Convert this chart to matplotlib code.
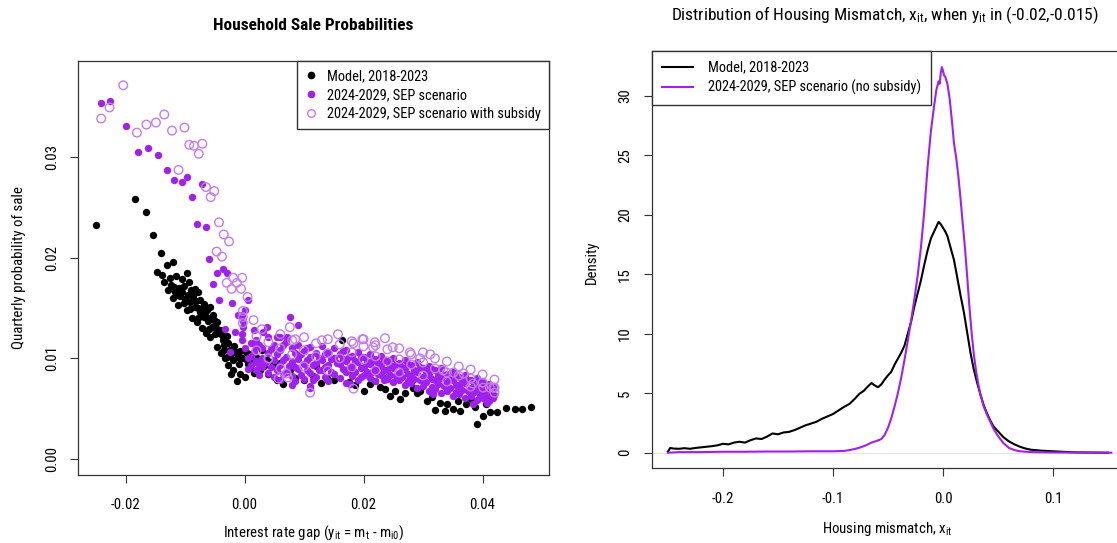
import matplotlib
matplotlib.use("Agg")
import matplotlib.pyplot as plt
import matplotlib.font_manager as fm
from matplotlib.lines import Line2D

# pick a narrow face if one is installed, else an Arial-like one
names = {f.name for f in fm.fontManager.ttflist}
FONT, SCALE = 'Liberation Sans', 1.0
for cand in ['Liberation Sans Narrow', 'Roboto Condensed', 'Arial Narrow', 'Open Sans Condensed']:
    if cand in names:
        FONT, SCALE = cand, 1.15
        break
plt.rcParams['font.family'] = [FONT, 'DejaVu Sans']

# ---- left panel: sale probabilities (x = rate gap, y = quarterly prob.) ----
model_pts = [
    (-0.0249, 0.0232), (-0.0184, 0.0258), (-0.0165, 0.0245), (-0.0154, 0.0222),
    (-0.0141, 0.0205), (-0.0147, 0.0186), (-0.0130, 0.0193), (-0.0120, 0.0196),
    (-0.0135, 0.0176), (-0.0124, 0.0173), (-0.0115, 0.0182), (-0.0096, 0.0185),
    (-0.0106, 0.0179), (-0.0128, 0.0168), (-0.0117, 0.0166), (-0.0110, 0.0170),
    (-0.0101, 0.0172), (-0.0093, 0.0176), (-0.0083, 0.0169), (-0.0078, 0.0166),
    (-0.0120, 0.0160), (-0.0108, 0.0162), (-0.0100, 0.0159), (-0.0092, 0.0156),
    (-0.0086, 0.0162), (-0.0075, 0.0158), (-0.0068, 0.0154), (-0.0112, 0.0153),
    (-0.0097, 0.0148), (-0.0092, 0.0149), (-0.0084, 0.0151), (-0.0075, 0.0146),
    (-0.0064, 0.0148), (-0.0058, 0.0151), (-0.0053, 0.0143), (-0.0069, 0.0141),
    (-0.0088, 0.0140), (-0.0080, 0.0136), (-0.0062, 0.0137), (-0.0055, 0.0131),
    (-0.0046, 0.0136), (-0.0041, 0.0128), (-0.0072, 0.0130), (-0.0065, 0.0125),
    (-0.0058, 0.0121), (-0.0050, 0.0124), (-0.0036, 0.0118), (-0.0047, 0.0111),
    (-0.0030, 0.0122), (-0.0025, 0.0108), (-0.0040, 0.0105), (-0.0030, 0.0101),
    (-0.0033, 0.0100), (-0.0019, 0.0098), (-0.0011, 0.0101), (-0.0018, 0.0112),
    (-0.0008, 0.0107), (0.0004, 0.0098), (0.0010, 0.0104), (0.0020, 0.0101),
    (0.0030, 0.0108), (0.0037, 0.0098), (-0.0022, 0.0085), (-0.0019, 0.0088),
    (-0.0013, 0.0078), (-0.0008, 0.0085), (0.0000, 0.0082), (0.0009, 0.0091),
    (0.0015, 0.0086), (0.0026, 0.0088), (0.0040, 0.0085), (-0.0028, 0.0093),
    (0.0005, 0.0094), (0.0048, 0.0093), (0.0055, 0.0079), (0.0065, 0.0075),
    (0.0085, 0.0081), (0.0076, 0.0088), (0.0100, 0.0079), (0.0115, 0.0083),
    (0.0138, 0.0081), (0.0128, 0.0076), (0.0163, 0.0118), (0.0150, 0.0079),
    (0.0175, 0.0077), (0.0185, 0.0074), (0.0200, 0.0068), (0.0210, 0.0075),
    (0.0219, 0.0078), (0.0228, 0.0072), (0.0236, 0.0070), (0.0245, 0.0063),
    (0.0252, 0.0068), (0.0261, 0.0060), (0.0270, 0.0066), (0.0283, 0.0071),
    (0.0289, 0.0066), (0.0295, 0.0068), (0.0306, 0.0058), (0.0315, 0.0062),
    (0.0320, 0.0049), (0.0328, 0.0056), (0.0337, 0.0048), (0.0340, 0.0055),
    (0.0351, 0.0050), (0.0358, 0.0058), (0.0362, 0.0048), (0.0372, 0.0055),
    (0.0380, 0.0060), (0.0388, 0.0052), (0.0390, 0.0035), (0.0396, 0.0063),
    (0.0401, 0.0043), (0.0405, 0.0055), (0.0412, 0.0047), (0.0418, 0.0063),
    (0.0424, 0.0047), (0.0440, 0.0051), (0.0454, 0.0050), (0.0466, 0.0050),
    (0.0481, 0.0052), (0.0060, 0.0095), (0.0120, 0.0092), (0.0180, 0.0088),
    (0.0240, 0.0082), (0.0300, 0.0078), (0.0360, 0.0070), (0.0400, 0.0068),
    (-0.0118, 0.0171), (-0.0105, 0.0166), (-0.0095, 0.0163), (-0.0090, 0.0168),
    (-0.0082, 0.0157), (-0.0079, 0.0150), (-0.0071, 0.0149), (-0.0066, 0.0143),
    (-0.0060, 0.0140), (-0.0052, 0.0138), (-0.0048, 0.0130), (-0.0044, 0.0125),
    (-0.0038, 0.0123), (-0.0034, 0.0113), (-0.0028, 0.0115), (-0.0022, 0.0104),
    (-0.0015, 0.0106), (-0.0005, 0.0100), (0.0002, 0.0106), (0.0014, 0.0096),
    (0.0024, 0.0094), (0.0033, 0.0092), (-0.0010, 0.0094), (-0.0035, 0.0108),
    (-0.0060, 0.0129), (-0.0078, 0.0140), (-0.0102, 0.0155), (-0.0113, 0.0163),
    (-0.0125, 0.0180), (-0.0139, 0.0183),
]

sep_pts = [
    (-0.0241, 0.0353), (-0.0226, 0.0355), (-0.0200, 0.0331), (-0.0179, 0.0305),
    (-0.0162, 0.0309), (-0.0145, 0.0302), (-0.0130, 0.0287), (-0.0118, 0.0277),
    (-0.0106, 0.0275), (-0.0096, 0.0280), (-0.0072, 0.0273), (-0.0088, 0.0260),
    (-0.0080, 0.0233), (-0.0065, 0.0230), (-0.0059, 0.0199), (-0.0047, 0.0185),
    (-0.0037, 0.0189), (-0.0029, 0.0185), (-0.0053, 0.0174), (-0.0043, 0.0158),
    (-0.0021, 0.0155), (0.0005, 0.0158), (0.0001, 0.0148), (-0.0005, 0.0143),
    (-0.0011, 0.0143), (-0.0033, 0.0129), (-0.0016, 0.0126), (0.0015, 0.0128),
    (-0.0025, 0.0106), (0.0000, 0.0110), (0.0020, 0.0111), (0.0037, 0.0131),
    (0.0031, 0.0126), (0.0076, 0.0141), (0.0090, 0.0133), (0.0060, 0.0121),
    (0.0071, 0.0121), (-0.0004, 0.0118), (-0.0004, 0.0124), (-0.0003, 0.0131),
    (-0.0003, 0.0137),
    (0.0010, 0.0115), (0.0010, 0.0102), (0.0010, 0.0093),
    (0.0020, 0.0118), (0.0020, 0.0097), (0.0020, 0.0088),
    (0.0030, 0.0110), (0.0030, 0.0100), (0.0030, 0.0091),
    (0.0040, 0.0121), (0.0040, 0.0105), (0.0040, 0.0086),
    (0.0050, 0.0113), (0.0050, 0.0098), (0.0050, 0.0082),
    (0.0060, 0.0108), (0.0060, 0.0093), (0.0060, 0.0079),
    (0.0070, 0.0116), (0.0070, 0.0101), (0.0070, 0.0087),
    (0.0080, 0.0110), (0.0080, 0.0096), (0.0080, 0.0083), (0.0080, 0.0074),
    (0.0090, 0.0113), (0.0090, 0.0099), (0.0090, 0.0089),
    (0.0100, 0.0107), (0.0100, 0.0094), (0.0100, 0.0080),
    (0.0110, 0.0111), (0.0110, 0.0101), (0.0110, 0.0086), (0.0110, 0.0073),
    (0.0120, 0.0105), (0.0120, 0.0095), (0.0120, 0.0082),
    (0.0130, 0.0112), (0.0130, 0.0098), (0.0130, 0.0088),
    (0.0140, 0.0106), (0.0140, 0.0093), (0.0140, 0.0078),
    (0.0150, 0.0110), (0.0150, 0.0100), (0.0150, 0.0085),
    (0.0160, 0.0104), (0.0160, 0.0094), (0.0160, 0.0081),
    (0.0170, 0.0108), (0.0170, 0.0097), (0.0170, 0.0087), (0.0170, 0.0076),
    (0.0180, 0.0102), (0.0180, 0.0092), (0.0180, 0.0083),
    (0.0190, 0.0106), (0.0190, 0.0096), (0.0190, 0.0079),
    (0.0200, 0.0101), (0.0200, 0.0091), (0.0200, 0.0084),
    (0.0210, 0.0104), (0.0210, 0.0094), (0.0210, 0.0081),
    (0.0220, 0.0099), (0.0220, 0.0089), (0.0220, 0.0078),
    (0.0230, 0.0102), (0.0230, 0.0092), (0.0230, 0.0084),
    (0.0240, 0.0097), (0.0240, 0.0088), (0.0240, 0.0080),
    (0.0250, 0.0100), (0.0250, 0.0090), (0.0250, 0.0077),
    (0.0260, 0.0095), (0.0260, 0.0086), (0.0260, 0.0079),
    (0.0270, 0.0098), (0.0270, 0.0089), (0.0270, 0.0074),
    (0.0280, 0.0093), (0.0280, 0.0084), (0.0280, 0.0076),
    (0.0290, 0.0096), (0.0290, 0.0087), (0.0290, 0.0071),
    (0.0300, 0.0090), (0.0300, 0.0082), (0.0300, 0.0073),
    (0.0310, 0.0092), (0.0310, 0.0084), (0.0310, 0.0068),
    (0.0320, 0.0088), (0.0320, 0.0079), (0.0320, 0.0070),
    (0.0330, 0.0090), (0.0330, 0.0081), (0.0330, 0.0066),
    (0.0340, 0.0085), (0.0340, 0.0077), (0.0340, 0.0068),
    (0.0350, 0.0087), (0.0350, 0.0079), (0.0350, 0.0063),
    (0.0360, 0.0082), (0.0360, 0.0074), (0.0360, 0.0065),
    (0.0370, 0.0084), (0.0370, 0.0076), (0.0370, 0.0061),
    (0.0380, 0.0079), (0.0380, 0.0071), (0.0380, 0.0063),
    (0.0390, 0.0081), (0.0390, 0.0073), (0.0390, 0.0059),
    (0.0400, 0.0077), (0.0400, 0.0068), (0.0400, 0.0061),
    (0.0410, 0.0075), (0.0410, 0.0066), (0.0410, 0.0058),
    (0.0420, 0.0072), (0.0420, 0.0064),
    (0.0015, 0.0106), (0.0035, 0.0095), (0.0055, 0.0104), (0.0055, 0.0088),
    (0.0075, 0.0092), (0.0095, 0.0104), (0.0095, 0.0084), (0.0125, 0.0100),
    (0.0125, 0.0088), (0.0155, 0.0095), (0.0175, 0.0101), (0.0175, 0.0090),
    (0.0215, 0.0097), (0.0215, 0.0087), (0.0255, 0.0094), (0.0255, 0.0083),
    (0.0295, 0.0091), (0.0295, 0.0079), (0.0335, 0.0084), (0.0335, 0.0073),
    (0.0375, 0.0079), (0.0375, 0.0068), (0.0405, 0.0071), (0.0405, 0.0064),
    (0.0054, 0.0121), (0.0110, 0.0071), (0.0177, 0.0075), (0.0239, 0.0081),
    (0.0317, 0.0065), (0.0384, 0.0055), (0.0407, 0.0056), (0.0418, 0.0061),
    (0.0005, 0.0100), (0.0005, 0.0089), (0.0025, 0.0113), (0.0025, 0.0094),
    (0.0025, 0.0084), (0.0045, 0.0109), (0.0045, 0.0091), (0.0065, 0.0113),
    (0.0065, 0.0098), (0.0065, 0.0085), (0.0085, 0.0105), (0.0085, 0.0091),
    (0.0085, 0.0078), (0.0105, 0.0110), (0.0105, 0.0098), (0.0105, 0.0088),
    (0.0115, 0.0093), (0.0115, 0.0079), (0.0135, 0.0104), (0.0135, 0.0091),
    (0.0135, 0.0082), (0.0145, 0.0099), (0.0145, 0.0087), (0.0165, 0.0107),
    (0.0165, 0.0099), (0.0165, 0.0089), (0.0185, 0.0097), (0.0185, 0.0087),
    (0.0195, 0.0101), (0.0195, 0.0090), (0.0195, 0.0082), (0.0205, 0.0096),
    (0.0205, 0.0087), (0.0225, 0.0095), (0.0225, 0.0085), (0.0235, 0.0098),
    (0.0235, 0.0088), (0.0235, 0.0079), (0.0245, 0.0093), (0.0245, 0.0084),
    (0.0265, 0.0091), (0.0265, 0.0082), (0.0275, 0.0094), (0.0275, 0.0085),
    (0.0275, 0.0078), (0.0285, 0.0088), (0.0285, 0.0080), (0.0305, 0.0087),
    (0.0305, 0.0077), (0.0315, 0.0089), (0.0315, 0.0080), (0.0315, 0.0072),
    (0.0325, 0.0084), (0.0325, 0.0075), (0.0345, 0.0081), (0.0345, 0.0071),
    (0.0355, 0.0083), (0.0355, 0.0074), (0.0355, 0.0067), (0.0365, 0.0078),
    (0.0365, 0.0069), (0.0385, 0.0076), (0.0385, 0.0067), (0.0395, 0.0077),
    (0.0395, 0.0069), (0.0395, 0.0062), (0.0415, 0.0070), (0.0415, 0.0062),
]

subsidy_pts = [
    (-0.0204, 0.0371), (-0.0227, 0.0349), (-0.0241, 0.0338), (-0.0181, 0.0324),
    (-0.0165, 0.0332), (-0.0149, 0.0334), (-0.0135, 0.0342), (-0.0122, 0.0326),
    (-0.0101, 0.0329), (-0.0093, 0.0312), (-0.0085, 0.0311), (-0.0071, 0.0313),
    (-0.0077, 0.0303), (-0.0111, 0.0287), (-0.0065, 0.0270), (-0.0051, 0.0266),
    (-0.0057, 0.0260), (-0.0043, 0.0235), (-0.0035, 0.0223), (-0.0026, 0.0216),
    (-0.0047, 0.0206), (-0.0038, 0.0201), (-0.0019, 0.0180), (-0.0004, 0.0180),
    (-0.0030, 0.0175), (-0.0013, 0.0175), (-0.0022, 0.0169), (-0.0006, 0.0169),
    (0.0005, 0.0161), (-0.0003, 0.0147), (-0.0003, 0.0141), (-0.0003, 0.0135),
    (0.0015, 0.0138), (0.0029, 0.0129), (0.0076, 0.0131), (0.0057, 0.0080),
    (0.0071, 0.0085), (0.0073, 0.0081), (0.0110, 0.0066), (0.0085, 0.0119),
    (0.0130, 0.0118), (0.0157, 0.0124), (0.0198, 0.0119), (0.0183, 0.0115),
    (0.0200, 0.0119), (0.0216, 0.0111), (0.0219, 0.0116), (0.0236, 0.0120),
    (0.0249, 0.0111), (0.0278, 0.0106), (0.0295, 0.0100), (0.0312, 0.0104),
    (0.0334, 0.0088), (0.0351, 0.0086), (0.0368, 0.0085), (0.0384, 0.0075),
    (0.0401, 0.0071), (0.0412, 0.0071), (0.0418, 0.0071), (0.0183, 0.0070),
    (0.0020, 0.0122), (0.0020, 0.0108), (0.0040, 0.0116), (0.0040, 0.0100),
    (0.0060, 0.0124), (0.0060, 0.0110), (0.0060, 0.0090), (0.0080, 0.0118),
    (0.0080, 0.0104), (0.0100, 0.0121), (0.0100, 0.0108), (0.0100, 0.0092),
    (0.0120, 0.0115), (0.0120, 0.0102), (0.0140, 0.0119), (0.0140, 0.0105),
    (0.0140, 0.0088), (0.0160, 0.0114), (0.0160, 0.0100), (0.0180, 0.0117),
    (0.0180, 0.0106), (0.0180, 0.0091), (0.0200, 0.0112), (0.0200, 0.0099),
    (0.0220, 0.0113), (0.0220, 0.0102), (0.0220, 0.0088), (0.0240, 0.0109),
    (0.0240, 0.0097), (0.0260, 0.0110), (0.0260, 0.0099), (0.0260, 0.0086),
    (0.0280, 0.0104), (0.0280, 0.0094), (0.0300, 0.0106), (0.0300, 0.0096),
    (0.0300, 0.0083), (0.0320, 0.0100), (0.0320, 0.0090), (0.0340, 0.0097),
    (0.0340, 0.0086), (0.0340, 0.0077), (0.0360, 0.0092), (0.0360, 0.0083),
    (0.0380, 0.0089), (0.0380, 0.0080), (0.0380, 0.0072), (0.0400, 0.0084),
    (0.0400, 0.0076), (0.0420, 0.0079), (0.0420, 0.0071), (0.0420, 0.0066),
]

# ---- right panel: densities of housing mismatch ----
model_dens = [
    (-0.2500, 0.10), (-0.2480, 0.40), (-0.2450, 0.35), (-0.2400, 0.33),
    (-0.2350, 0.38), (-0.2300, 0.33), (-0.2250, 0.40), (-0.2200, 0.45),
    (-0.2150, 0.50), (-0.2100, 0.55), (-0.2050, 0.62), (-0.2000, 0.75),
    (-0.1950, 0.70), (-0.1900, 0.85), (-0.1850, 0.92), (-0.1800, 0.85),
    (-0.1750, 1.05), (-0.1700, 1.20), (-0.1650, 1.15), (-0.1600, 1.35),
    (-0.1550, 1.62), (-0.1500, 1.55), (-0.1450, 1.70), (-0.1400, 1.75),
    (-0.1350, 1.90), (-0.1300, 2.10), (-0.1250, 2.30), (-0.1200, 2.45),
    (-0.1150, 2.60), (-0.1100, 2.85), (-0.1050, 3.05), (-0.1000, 3.25),
    (-0.0950, 3.55), (-0.0900, 3.85), (-0.0850, 4.10), (-0.0800, 4.55),
    (-0.0760, 4.95), (-0.0720, 5.20), (-0.0680, 5.60), (-0.0650, 5.85),
    (-0.0620, 5.65), (-0.0590, 5.50), (-0.0560, 5.75), (-0.0530, 6.15),
    (-0.0500, 6.50), (-0.0470, 6.80), (-0.0440, 7.40), (-0.0410, 7.90),
    (-0.0380, 8.40), (-0.0350, 9.00), (-0.0320, 10.00), (-0.0290, 11.00),
    (-0.0260, 12.30), (-0.0230, 13.40), (-0.0200, 14.50), (-0.0170, 15.80),
    (-0.0140, 17.00), (-0.0110, 18.00), (-0.0080, 18.60), (-0.0060, 19.00),
    (-0.0040, 19.40), (-0.0020, 19.20), (0.0000, 18.90), (0.0020, 18.60),
    (0.0040, 18.20), (0.0070, 17.20), (0.0100, 16.20), (0.0130, 14.70),
    (0.0160, 13.20), (0.0190, 11.80), (0.0220, 10.10), (0.0250, 8.40),
    (0.0280, 7.00), (0.0310, 5.90), (0.0340, 4.90), (0.0370, 4.00),
    (0.0400, 3.30), (0.0430, 2.70), (0.0460, 2.20), (0.0500, 1.80),
    (0.0550, 1.30), (0.0600, 0.95), (0.0650, 0.70), (0.0700, 0.50),
    (0.0750, 0.35), (0.0800, 0.25), (0.0900, 0.17), (0.1000, 0.12),
    (0.1100, 0.07), (0.1200, 0.03), (0.1300, 0.02), (0.1400, 0.01),
    (0.1500, 0.00),
]

sep_dens = [
    (-0.2500, 0.00), (-0.2400, 0.05), (-0.2200, 0.05), (-0.2000, 0.08),
    (-0.1800, 0.08), (-0.1600, 0.10), (-0.1400, 0.10), (-0.1200, 0.12),
    (-0.1000, 0.12), (-0.0900, 0.15), (-0.0850, 0.22), (-0.0800, 0.32),
    (-0.0750, 0.45), (-0.0700, 0.62), (-0.0650, 0.85), (-0.0600, 1.00),
    (-0.0560, 1.15), (-0.0530, 1.50), (-0.0500, 2.10), (-0.0470, 2.90),
    (-0.0440, 3.90), (-0.0410, 5.00), (-0.0380, 6.30), (-0.0350, 7.80),
    (-0.0320, 9.40), (-0.0290, 11.10), (-0.0260, 12.90), (-0.0230, 14.90),
    (-0.0200, 17.30), (-0.0170, 20.30), (-0.0140, 24.00), (-0.0110, 27.00),
    (-0.0080, 29.20), (-0.0060, 30.50), (-0.0040, 31.20), (-0.0030, 31.00),
    (-0.0020, 31.90), (-0.0010, 32.40), (0.0000, 32.10), (0.0010, 31.70),
    (0.0020, 31.60), (0.0040, 31.00), (0.0060, 29.80), (0.0080, 28.00),
    (0.0100, 26.00), (0.0120, 24.80), (0.0140, 23.20), (0.0160, 21.30),
    (0.0180, 19.20), (0.0200, 17.20), (0.0220, 14.80), (0.0240, 12.30),
    (0.0260, 10.10), (0.0280, 8.30), (0.0300, 6.90), (0.0320, 5.80),
    (0.0340, 4.90), (0.0370, 3.90), (0.0400, 3.20), (0.0430, 2.60),
    (0.0460, 2.00), (0.0500, 1.40), (0.0550, 0.80), (0.0600, 0.40),
    (0.0650, 0.22), (0.0700, 0.12), (0.0800, 0.05), (0.1000, 0.02),
    (0.1300, 0.01), (0.1530, 0.00),
]

PURPLE = '#a020f0'
LAVENDER = '#c27cf5'
W, H = 1117, 543
FS = 9.3 * SCALE
LEG_FS = 9.0 * SCALE


def fx(px):
    return px / W


def fy(py):
    return 1 - py / H


fig = plt.figure(figsize=(W / 100, H / 100), dpi=100)

# ------------------------- left panel -------------------------
ax1 = fig.add_axes([fx(78.3), fy(474.5), (548.6 - 78.3) / W, (474.5 - 60.9) / H])
ax1.scatter([p[0] for p in model_pts], [p[1] for p in model_pts],
            s=28, c='black', linewidths=0)
ax1.scatter([p[0] for p in sep_pts], [p[1] for p in sep_pts],
            s=28, c=PURPLE, linewidths=0)
ax1.scatter([p[0] for p in subsidy_pts], [p[1] for p in subsidy_pts],
            s=38, facecolors='none', edgecolors=LAVENDER, linewidths=1.0)
ax1.set_xlim(-0.02795, 0.0511)
ax1.set_ylim(-0.00152, 0.03952)
ax1.set_xticks([-0.02, 0.0, 0.02, 0.04])
ax1.set_xticklabels(['-0.02', '0.00', '0.02', '0.04'])
ax1.set_yticks([0.0, 0.01, 0.02, 0.03])
ax1.set_yticklabels(['0.00', '0.01', '0.02', '0.03'])

leg_handles = [
    Line2D([], [], ls='none', marker='o', ms=4.5, mfc='black', mec='black'),
    Line2D([], [], ls='none', marker='o', ms=4.5, mfc=PURPLE, mec=PURPLE),
    Line2D([], [], ls='none', marker='o', ms=5.5, mfc='none', mec=LAVENDER, mew=1.0),
]
ax1.legend(leg_handles, ['Model, 2018-2023', '2024-2029, SEP scenario',
                         '2024-2029, SEP scenario with subsidy'],
           loc='upper right', borderaxespad=0, fancybox=False, framealpha=1,
           edgecolor='#333333', fontsize=LEG_FS, handlelength=0.8,
           handletextpad=0.7, labelspacing=0.35, borderpad=0.55)

fig.text(fx(313.5), fy(26), 'Household Sale Probabilities', ha='center',
         va='center', fontsize=10.8 * SCALE, fontweight='bold')
fig.text(fx(313.5), fy(533),
         r'Interest rate gap ($\mathregular{y_{it}}$ = $\mathregular{m_t}$ - $\mathregular{m_{i0}}$)',
         ha='center', va='center', fontsize=FS)
fig.text(fx(19), fy(268), 'Quarterly probability of sale', ha='center',
         va='center', rotation=90, fontsize=FS)

# ------------------------- right panel -------------------------
ax2 = fig.add_axes([fx(651.7), fy(468.3), (1129 - 651.7) / W, (468.3 - 50.7) / H])
ax2.axhline(0, color='#e6e6e6', lw=1.0, zorder=0)
ax2.plot([p[0] for p in model_dens], [p[1] for p in model_dens],
         color='black', lw=1.5, label='Model, 2018-2023')
ax2.plot([p[0] for p in sep_dens], [p[1] for p in sep_dens],
         color=PURPLE, lw=1.5, label='2024-2029, SEP scenario (no subsidy)')
ax2.set_xlim(-0.2648, 0.1691)
ax2.set_ylim(-1.31, 33.78)
ax2.set_xticks([-0.2, -0.1, 0.0, 0.1])
ax2.set_xticklabels(['-0.2', '-0.1', '0.0', '0.1'])
ax2.set_yticks([0, 5, 10, 15, 20, 25, 30])
ax2.legend(loc='upper left', borderaxespad=0, fancybox=False, framealpha=1,
           edgecolor='#333333', fontsize=LEG_FS, handlelength=2.2,
           handletextpad=1.0, labelspacing=0.35, borderpad=0.7)

fig.text(fx(885), fy(15),
         r'Distribution of Housing Mismatch, $\mathregular{x_{it}}$, when $\mathregular{y_{it}}$ in (-0.02,-0.015)',
         ha='center', va='center', fontsize=10.9 * SCALE)
fig.text(fx(887), fy(529), r'Housing mismatch, $\mathregular{x_{it}}$',
         ha='center', va='center', fontsize=FS)
fig.text(fx(592), fy(262), 'Density', ha='center', va='center',
         rotation=90, fontsize=FS)

for ax in (ax1, ax2):
    for sp in ax.spines.values():
        sp.set_color('#333333')
        sp.set_linewidth(0.9)
    ax.tick_params(direction='out', length=6, width=0.8, color='#333333',
                   labelsize=FS)
    ax.tick_params(axis='x', pad=11)
    ax.tick_params(axis='y', pad=8)
    for lab in ax.get_yticklabels():
        lab.set_rotation(90)
        lab.set_va('center')

fig.savefig('out.png', dpi=100)
